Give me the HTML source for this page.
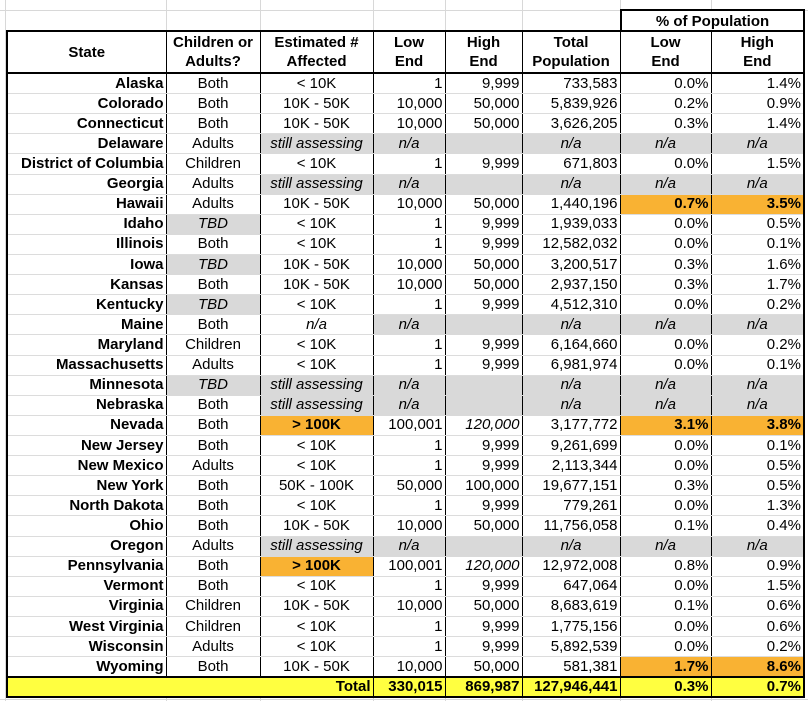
<!DOCTYPE html>
<html><head><meta charset="utf-8">
<style>
body{margin:0;width:808px;height:701px;background:#fff;position:relative;overflow:hidden;font-family:"Liberation Sans",Arial,sans-serif;}
.vg{position:absolute;top:0;height:701px;width:1px;background:#d8d8d8;}
.hg{position:absolute;left:0;width:808px;height:1px;background:#d8d8d8;}
#pop{position:absolute;left:620px;top:9px;width:181px;height:20px;border:2px solid #000;border-bottom:none;font-weight:bold;font-size:15px;text-align:center;line-height:21px;background:#fff;}
table{position:absolute;left:6px;top:30px;border-collapse:collapse;table-layout:fixed;border:2px solid #000;font-size:15px;background:#fff;}
td{padding:0 2px;height:19.12px;line-height:16px;border-left:1px solid #000;border-right:1px solid #000;border-bottom:1px solid #dcdcdc;white-space:nowrap;overflow:hidden;text-align:right;}
tr.h td{height:40px;line-height:19px;font-weight:bold;text-align:center;border-bottom:2px solid #000;}
td:first-child{font-weight:bold;}
.c{text-align:center;}
.g{background:#d9d9d9;font-style:italic;text-align:center;border-bottom-color:#d9d9d9;}
.gn{border-left-color:#d9d9d9;}
.i{font-style:italic;}
.o{background:#f9b233;font-weight:bold;}
tr.t td{height:18px;background:#ffff40;font-weight:bold;border-top:2px solid #000;border-bottom:2px solid #000;}
</style></head><body>
<div class="vg" style="left:5px"></div><div class="vg" style="left:166px"></div><div class="vg" style="left:260px"></div><div class="vg" style="left:373px"></div><div class="vg" style="left:445px"></div><div class="vg" style="left:522px"></div><div class="vg" style="left:620px"></div><div class="vg" style="left:711px"></div>
<div class="hg" style="top:10px"></div><div class="hg" style="top:699px"></div>
<div id="pop">% of Population</div>
<table>
<colgroup><col style="width:159px"><col style="width:94px"><col style="width:113px"><col style="width:72px"><col style="width:77px"><col style="width:98px"><col style="width:91px"><col style="width:93px"></colgroup>
<tr class="h"><td>State</td><td>Children or<br>Adults?</td><td>Estimated #<br>Affected</td><td>Low<br>End</td><td>High<br>End</td><td>Total<br>Population</td><td>Low<br>End</td><td>High<br>End</td></tr>
<tr><td>Alaska</td><td class="c">Both</td><td class="c">&lt; 10K</td><td>1</td><td>9,999</td><td>733,583</td><td>0.0%</td><td>1.4%</td></tr>
<tr><td>Colorado</td><td class="c">Both</td><td class="c">10K - 50K</td><td>10,000</td><td>50,000</td><td>5,839,926</td><td>0.2%</td><td>0.9%</td></tr>
<tr><td>Connecticut</td><td class="c">Both</td><td class="c">10K - 50K</td><td>10,000</td><td>50,000</td><td>3,626,205</td><td>0.3%</td><td>1.4%</td></tr>
<tr><td>Delaware</td><td class="c">Adults</td><td class="g">still assessing</td><td class="g">n/a</td><td class="g gn"></td><td class="g gn">n/a</td><td class="g gn">n/a</td><td class="g gn">n/a</td></tr>
<tr><td>District of Columbia</td><td class="c">Children</td><td class="c">&lt; 10K</td><td>1</td><td>9,999</td><td>671,803</td><td>0.0%</td><td>1.5%</td></tr>
<tr><td>Georgia</td><td class="c">Adults</td><td class="g">still assessing</td><td class="g">n/a</td><td class="g gn"></td><td class="g gn">n/a</td><td class="g gn">n/a</td><td class="g gn">n/a</td></tr>
<tr><td>Hawaii</td><td class="c">Adults</td><td class="c">10K - 50K</td><td>10,000</td><td>50,000</td><td>1,440,196</td><td class="o">0.7%</td><td class="o">3.5%</td></tr>
<tr><td>Idaho</td><td class="g">TBD</td><td class="c">&lt; 10K</td><td>1</td><td>9,999</td><td>1,939,033</td><td>0.0%</td><td>0.5%</td></tr>
<tr><td>Illinois</td><td class="c">Both</td><td class="c">&lt; 10K</td><td>1</td><td>9,999</td><td>12,582,032</td><td>0.0%</td><td>0.1%</td></tr>
<tr><td>Iowa</td><td class="g">TBD</td><td class="c">10K - 50K</td><td>10,000</td><td>50,000</td><td>3,200,517</td><td>0.3%</td><td>1.6%</td></tr>
<tr><td>Kansas</td><td class="c">Both</td><td class="c">10K - 50K</td><td>10,000</td><td>50,000</td><td>2,937,150</td><td>0.3%</td><td>1.7%</td></tr>
<tr><td>Kentucky</td><td class="g">TBD</td><td class="c">&lt; 10K</td><td>1</td><td>9,999</td><td>4,512,310</td><td>0.0%</td><td>0.2%</td></tr>
<tr><td>Maine</td><td class="c">Both</td><td class="c i">n/a</td><td class="g">n/a</td><td class="g gn"></td><td class="g gn">n/a</td><td class="g gn">n/a</td><td class="g gn">n/a</td></tr>
<tr><td>Maryland</td><td class="c">Children</td><td class="c">&lt; 10K</td><td>1</td><td>9,999</td><td>6,164,660</td><td>0.0%</td><td>0.2%</td></tr>
<tr><td>Massachusetts</td><td class="c">Adults</td><td class="c">&lt; 10K</td><td>1</td><td>9,999</td><td>6,981,974</td><td>0.0%</td><td>0.1%</td></tr>
<tr><td>Minnesota</td><td class="g">TBD</td><td class="g">still assessing</td><td class="g">n/a</td><td class="g gn"></td><td class="g gn">n/a</td><td class="g gn">n/a</td><td class="g gn">n/a</td></tr>
<tr><td>Nebraska</td><td class="c">Both</td><td class="g">still assessing</td><td class="g">n/a</td><td class="g gn"></td><td class="g gn">n/a</td><td class="g gn">n/a</td><td class="g gn">n/a</td></tr>
<tr><td>Nevada</td><td class="c">Both</td><td class="c o">&gt; 100K</td><td>100,001</td><td class="i">120,000</td><td>3,177,772</td><td class="o">3.1%</td><td class="o">3.8%</td></tr>
<tr><td>New Jersey</td><td class="c">Both</td><td class="c">&lt; 10K</td><td>1</td><td>9,999</td><td>9,261,699</td><td>0.0%</td><td>0.1%</td></tr>
<tr><td>New Mexico</td><td class="c">Adults</td><td class="c">&lt; 10K</td><td>1</td><td>9,999</td><td>2,113,344</td><td>0.0%</td><td>0.5%</td></tr>
<tr><td>New York</td><td class="c">Both</td><td class="c">50K - 100K</td><td>50,000</td><td>100,000</td><td>19,677,151</td><td>0.3%</td><td>0.5%</td></tr>
<tr><td>North Dakota</td><td class="c">Both</td><td class="c">&lt; 10K</td><td>1</td><td>9,999</td><td>779,261</td><td>0.0%</td><td>1.3%</td></tr>
<tr><td>Ohio</td><td class="c">Both</td><td class="c">10K - 50K</td><td>10,000</td><td>50,000</td><td>11,756,058</td><td>0.1%</td><td>0.4%</td></tr>
<tr><td>Oregon</td><td class="c">Adults</td><td class="g">still assessing</td><td class="g">n/a</td><td class="g gn"></td><td class="g gn">n/a</td><td class="g gn">n/a</td><td class="g gn">n/a</td></tr>
<tr><td>Pennsylvania</td><td class="c">Both</td><td class="c o">&gt; 100K</td><td>100,001</td><td class="i">120,000</td><td>12,972,008</td><td>0.8%</td><td>0.9%</td></tr>
<tr><td>Vermont</td><td class="c">Both</td><td class="c">&lt; 10K</td><td>1</td><td>9,999</td><td>647,064</td><td>0.0%</td><td>1.5%</td></tr>
<tr><td>Virginia</td><td class="c">Children</td><td class="c">10K - 50K</td><td>10,000</td><td>50,000</td><td>8,683,619</td><td>0.1%</td><td>0.6%</td></tr>
<tr><td>West Virginia</td><td class="c">Children</td><td class="c">&lt; 10K</td><td>1</td><td>9,999</td><td>1,775,156</td><td>0.0%</td><td>0.6%</td></tr>
<tr><td>Wisconsin</td><td class="c">Adults</td><td class="c">&lt; 10K</td><td>1</td><td>9,999</td><td>5,892,539</td><td>0.0%</td><td>0.2%</td></tr>
<tr><td>Wyoming</td><td class="c">Both</td><td class="c">10K - 50K</td><td>10,000</td><td>50,000</td><td>581,381</td><td class="o">1.7%</td><td class="o">8.6%</td></tr>
<tr class="t"><td colspan="3" style="border-right:1px solid #000">Total</td><td>330,015</td><td>869,987</td><td>127,946,441</td><td>0.3%</td><td>0.7%</td></tr>
</table>
</body></html>
